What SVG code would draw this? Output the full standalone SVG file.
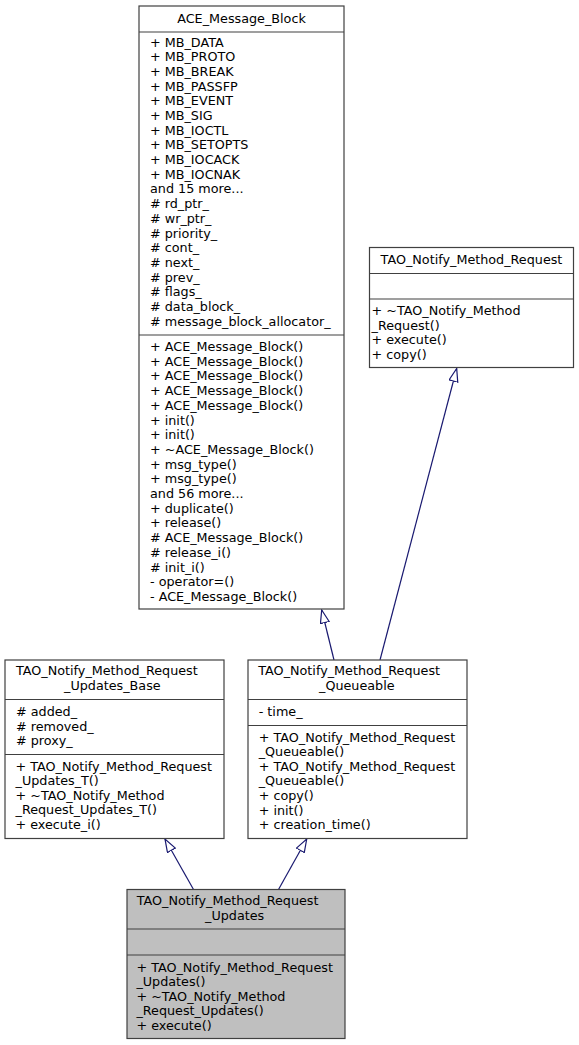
<svg xmlns="http://www.w3.org/2000/svg" width="579" height="1045" viewBox="0 0 579 1045">
<style>
  .box { fill: #ffffff; stroke: #404040; stroke-width: 1.2; }
  .sel { fill: #bfbfbf; stroke: #404040; stroke-width: 1.2; }
  .div { stroke: #404040; stroke-width: 1.2; }
  text { font-family: "DejaVu Sans", "Liberation Sans", sans-serif; font-size: 12.75px; fill: #000000; }
  .c { text-anchor: middle; }
  .edge { fill: none; stroke: #191970; stroke-width: 1.2; }
</style>
<defs>
  <marker id="inh" markerUnits="userSpaceOnUse" markerWidth="16" markerHeight="12" refX="13.5" refY="5" orient="auto">
    <path d="M0.5,0.5 L13.5,5 L0.5,9.5 Z" fill="#ffffff" stroke="#191970" stroke-width="1.2"/>
  </marker>
</defs>
<rect width="579" height="1045" fill="#ffffff"/>

<g id="connectors">
  <path class="edge" d="M334,660 L321.7,610" marker-end="url(#inh)"/>
  <path class="edge" d="M380,660 L456.7,368.5" marker-end="url(#inh)"/>
  <path class="edge" d="M193.5,889.5 L165,839" marker-end="url(#inh)"/>
  <path class="edge" d="M278.5,889.5 L306.7,839" marker-end="url(#inh)"/>
</g>

<g id="ACE_Message_Block">
  <rect class="box" x="139" y="6" width="205" height="603"/>
  <line class="div" x1="139" y1="32" x2="344" y2="32"/>
  <line class="div" x1="139" y1="335" x2="344" y2="335"/>
  <text class="c" x="241.5" y="22.5">ACE_Message_Block</text>
  <text x="150" y="46.5">
    <tspan x="150" dy="0">+ MB_DATA</tspan>
    <tspan x="150" dy="14.7">+ MB_PROTO</tspan>
    <tspan x="150" dy="14.7">+ MB_BREAK</tspan>
    <tspan x="150" dy="14.7">+ MB_PASSFP</tspan>
    <tspan x="150" dy="14.7">+ MB_EVENT</tspan>
    <tspan x="150" dy="14.7">+ MB_SIG</tspan>
    <tspan x="150" dy="14.7">+ MB_IOCTL</tspan>
    <tspan x="150" dy="14.7">+ MB_SETOPTS</tspan>
    <tspan x="150" dy="14.7">+ MB_IOCACK</tspan>
    <tspan x="150" dy="14.7">+ MB_IOCNAK</tspan>
    <tspan x="150" dy="14.7">and 15 more...</tspan>
    <tspan x="150" dy="14.7"># rd_ptr_</tspan>
    <tspan x="150" dy="14.7"># wr_ptr_</tspan>
    <tspan x="150" dy="14.7"># priority_</tspan>
    <tspan x="150" dy="14.7"># cont_</tspan>
    <tspan x="150" dy="14.7"># next_</tspan>
    <tspan x="150" dy="14.7"># prev_</tspan>
    <tspan x="150" dy="14.7"># flags_</tspan>
    <tspan x="150" dy="14.7"># data_block_</tspan>
    <tspan x="150" dy="14.7"># message_block_allocator_</tspan>
  </text>
  <text x="150" y="351">
    <tspan x="150" dy="0">+ ACE_Message_Block()</tspan>
    <tspan x="150" dy="14.7">+ ACE_Message_Block()</tspan>
    <tspan x="150" dy="14.7">+ ACE_Message_Block()</tspan>
    <tspan x="150" dy="14.7">+ ACE_Message_Block()</tspan>
    <tspan x="150" dy="14.7">+ ACE_Message_Block()</tspan>
    <tspan x="150" dy="14.7">+ init()</tspan>
    <tspan x="150" dy="14.7">+ init()</tspan>
    <tspan x="150" dy="14.7">+ ~ACE_Message_Block()</tspan>
    <tspan x="150" dy="14.7">+ msg_type()</tspan>
    <tspan x="150" dy="14.7">+ msg_type()</tspan>
    <tspan x="150" dy="14.7">and 56 more...</tspan>
    <tspan x="150" dy="14.7">+ duplicate()</tspan>
    <tspan x="150" dy="14.7">+ release()</tspan>
    <tspan x="150" dy="14.7"># ACE_Message_Block()</tspan>
    <tspan x="150" dy="14.7"># release_i()</tspan>
    <tspan x="150" dy="14.7"># init_i()</tspan>
    <tspan x="150" dy="14.7">- operator=()</tspan>
    <tspan x="150" dy="14.7">- ACE_Message_Block()</tspan>
  </text>
</g>

<g id="TAO_Notify_Method_Request">
  <rect class="box" x="369.5" y="247.5" width="204" height="120"/>
  <line class="div" x1="369.5" y1="273.5" x2="573.5" y2="273.5"/>
  <line class="div" x1="369.5" y1="299" x2="573.5" y2="299"/>
  <text class="c" x="471.5" y="264">TAO_Notify_Method_Request</text>
  <text x="371.5" y="315">
    <tspan x="371.5" dy="0">+ ~TAO_Notify_Method</tspan>
    <tspan x="371.5" dy="14.7">_Request()</tspan>
    <tspan x="371.5" dy="14.7">+ execute()</tspan>
    <tspan x="371.5" dy="14.7">+ copy()</tspan>
  </text>
</g>

<g id="TAO_Notify_Method_Request_Updates_Base">
  <rect class="box" x="5" y="660" width="219" height="178.5"/>
  <line class="div" x1="5" y1="699.5" x2="224" y2="699.5"/>
  <line class="div" x1="5" y1="754.5" x2="224" y2="754.5"/>
  <text x="16" y="675">TAO_Notify_Method_Request</text>
  <text x="64" y="689.7">_Updates_Base</text>
  <text x="16" y="716">
    <tspan x="16" dy="0"># added_</tspan>
    <tspan x="16" dy="14.7"># removed_</tspan>
    <tspan x="16" dy="14.7"># proxy_</tspan>
  </text>
  <text x="15.5" y="770.7">
    <tspan x="15.5" dy="0">+ TAO_Notify_Method_Request</tspan>
    <tspan x="15.5" dy="14.5">_Updates_T()</tspan>
    <tspan x="15.5" dy="14.5">+ ~TAO_Notify_Method</tspan>
    <tspan x="15.5" dy="14.5">_Request_Updates_T()</tspan>
    <tspan x="15.5" dy="14.5">+ execute_i()</tspan>
  </text>
</g>

<g id="TAO_Notify_Method_Request_Queueable">
  <rect class="box" x="248" y="660" width="219" height="178.5"/>
  <line class="div" x1="248" y1="699.5" x2="467" y2="699.5"/>
  <line class="div" x1="248" y1="725.5" x2="467" y2="725.5"/>
  <text x="258.3" y="675">TAO_Notify_Method_Request</text>
  <text x="319" y="689.7">_Queueable</text>
  <text x="258.7" y="715.7">- time_</text>
  <text x="258.7" y="741.5">
    <tspan x="258.7" dy="0">+ TAO_Notify_Method_Request</tspan>
    <tspan x="258.7" dy="14.6">_Queueable()</tspan>
    <tspan x="258.7" dy="14.6">+ TAO_Notify_Method_Request</tspan>
    <tspan x="258.7" dy="14.6">_Queueable()</tspan>
    <tspan x="258.7" dy="14.6">+ copy()</tspan>
    <tspan x="258.7" dy="14.6">+ init()</tspan>
    <tspan x="258.7" dy="14.6">+ creation_time()</tspan>
  </text>
</g>

<g id="TAO_Notify_Method_Request_Updates">
  <rect class="sel" x="127" y="889.5" width="218" height="149"/>
  <line class="div" x1="127" y1="929" x2="345" y2="929"/>
  <line class="div" x1="127" y1="955" x2="345" y2="955"/>
  <text x="136.7" y="905">TAO_Notify_Method_Request</text>
  <text x="205" y="919.7">_Updates</text>
  <text x="136.4" y="971.5">
    <tspan x="136.4" dy="0">+ TAO_Notify_Method_Request</tspan>
    <tspan x="136.4" dy="14.6">_Updates()</tspan>
    <tspan x="136.4" dy="14.6">+ ~TAO_Notify_Method</tspan>
    <tspan x="136.4" dy="14.6">_Request_Updates()</tspan>
    <tspan x="136.4" dy="14.6">+ execute()</tspan>
  </text>
</g>
</svg>
